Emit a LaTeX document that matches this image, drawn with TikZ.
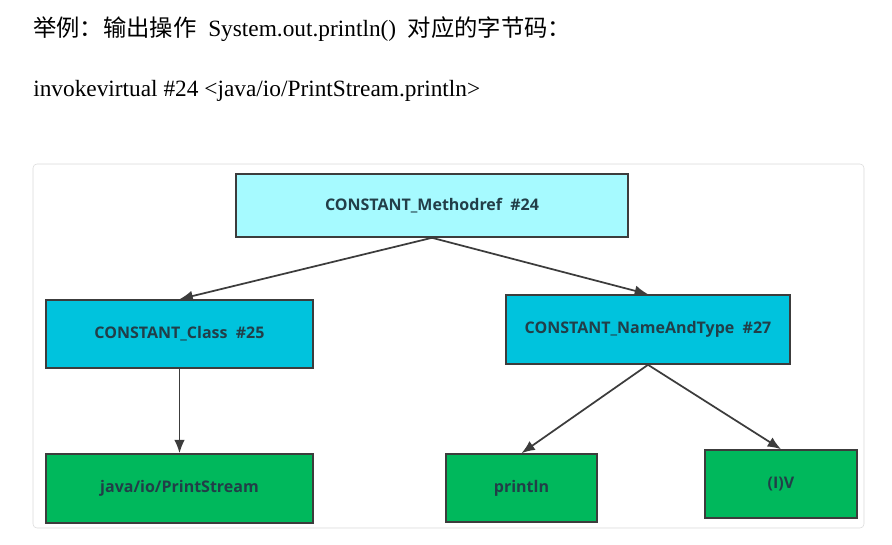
\documentclass[tikz,border=0pt]{standalone}
\usepackage{fontspec}
\setmainfont{Liberation Serif}
\newfontfamily\cjk{Noto Sans CJK SC}
\newfontfamily\boxfont{Open Sans}
\usetikzlibrary{arrows.meta}
\tikzset{>=latex}
\definecolor{methodfill}{RGB}{166,250,255}
\definecolor{classfill}{RGB}{0,195,221}
\definecolor{leaffill}{RGB}{0,184,92}
\definecolor{linegray}{RGB}{60,60,60}
\definecolor{boxtext}{RGB}{34,62,72}
\tikzset{
  entry/.style={draw=linegray, line width=1.2pt, inner sep=0pt, text=boxtext,
    font=\boxfont\bfseries\fontsize{12}{14}\selectfont},
  link/.style={-{Latex[length=10pt,width=8pt]}, line width=1.3pt, linegray}
}

\begin{document}
\begin{tikzpicture}[x=0.75pt, y=-0.75pt]
            \useasboundingbox (0,0) rectangle (892,545);
            \node[anchor=base west, inner sep=0pt, font=\fontsize{17.5}{20}\selectfont] (title) at (33,37) {{\cjk 举例：输出操作}\ \ System.out.println()\ \ {\cjk 对应的字节码：}};
            \node[anchor=base west, inner sep=0pt, font=\fontsize{17.5}{20}\selectfont] (code) at (33,97) {invokevirtual \#24 <java/io/PrintStream.println>};
            \draw[rounded corners=3pt, draw=black!15, fill=white] (33,164) rectangle (864,528);
            \node[entry, fill=methodfill, minimum width=294pt, minimum height=47.25pt] (mref) at (432,205.5) {CONSTANT\_Methodref\ \ \#24};
            \node[entry, fill=classfill, minimum width=200.25pt, minimum height=51pt] (cls) at (179.5,334) {CONSTANT\_Class\ \ \#25};
            \node[entry, fill=classfill, minimum width=213pt, minimum height=51.75pt] (nat) at (648,329.5) {CONSTANT\_NameAndType\ \ \#27};
            \node[entry, fill=leaffill, minimum width=200.25pt, minimum height=51.75pt] (stream) at (179.5,488.5) {java/io/PrintStream};
            \node[entry, fill=leaffill, minimum width=113.25pt, minimum height=51pt] (mname) at (521.5,488) {println};
            \node[entry, fill=leaffill, minimum width=114pt, minimum height=51pt] (mtype) at (781,484) {(I)V};
            \draw[link] (mref.south) -- (cls.north);
            \draw[link] (mref.south) -- (nat.north);
            \draw[link] (cls.south) -- (stream.north);
            \draw[link] (nat.south) -- (mname.north);
            \draw[link] (nat.south) -- (mtype.north);
        \end{tikzpicture}
\end{document}
